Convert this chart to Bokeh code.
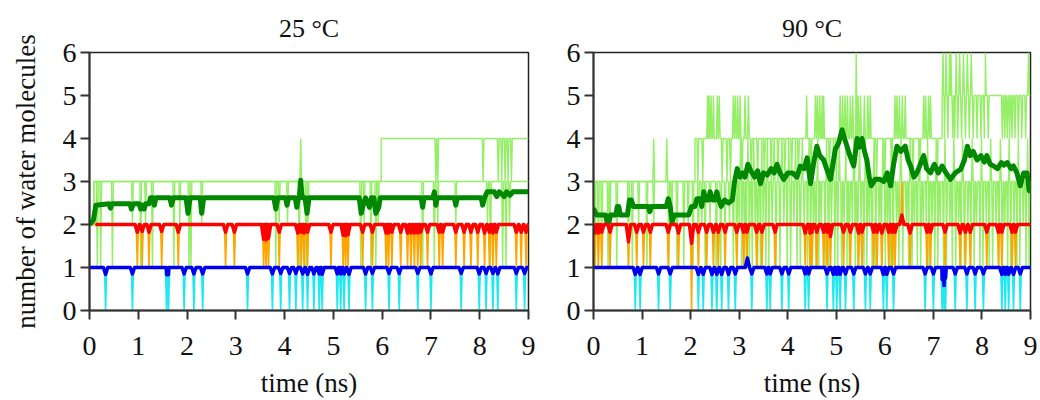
import numpy as np
from bokeh.plotting import figure
from bokeh.layouts import row
from bokeh.models import Range1d, FixedTicker, Title
from bokeh.embed import file_html
from bokeh.resources import INLINE

TIME_TICKS = [0, 1, 2, 3, 4, 5, 6, 7, 8, 9]
COUNT_TICKS = [0, 1, 2, 3, 4, 5, 6]
TITLES = ["25 \u00b0C", "90 \u00b0C"]

# ---------------- 25 °C ----------------
cyan25_t = [0.33, 0.88, 1.58, 1.62, 1.94, 2.14, 2.32, 3.24, 3.75, 3.92, 4.10, 4.23, 4.37, 4.47,
            4.60, 4.71, 4.77, 5.08, 5.15, 5.22, 5.32, 5.66, 5.80, 6.14, 6.35, 6.73, 7.00, 7.62,
            7.99, 8.13, 8.27, 8.37, 8.75, 8.92]
cyan25_v = [0] * len(cyan25_t)
blue25_t = cyan25_t
blue25_v = [0.84, 0.85, 0.83, 0.83, 0.85, 0.85, 0.85, 0.85, 0.85, 0.86, 0.86, 0.86, 0.85, 0.84,
            0.85, 0.85, 0.84, 0.85, 0.85, 0.85, 0.84, 0.85, 0.86, 0.86, 0.86, 0.86, 0.85, 0.86,
            0.85, 0.86, 0.86, 0.85, 0.86, 0.86]
orange25_t = [0.98, 1.08, 1.22, 1.48, 1.82, 2.79, 2.97, 3.57, 3.62, 3.67, 3.89, 4.27, 4.34, 4.40,
              4.47, 4.95, 5.20, 5.25, 5.30, 5.60, 5.80, 6.08, 6.13, 6.20, 6.38, 6.52, 6.59, 6.66,
              6.73, 6.79, 6.93, 7.17, 7.24, 7.51, 7.68, 7.82, 7.96, 8.10, 8.20, 8.27, 8.34, 8.75,
              8.85, 8.95]
orange25_v = [1] * len(orange25_t)
red25_t = orange25_t
red25_v = [1.82, 1.84, 1.82, 1.84, 1.82, 1.82, 1.82, 1.66, 1.64, 1.68, 1.82, 1.80, 1.82, 1.80,
           1.82, 1.82, 1.75, 1.74, 1.76, 1.82, 1.82, 1.80, 1.80, 1.82, 1.82, 1.80, 1.80, 1.80,
           1.80, 1.82, 1.82, 1.82, 1.82, 1.82, 1.82, 1.82, 1.82, 1.80, 1.82, 1.80, 1.82, 1.82,
           1.82, 1.82]
lg25lo_step_t = [0.0, 0.09]
lg25lo_step_v = [2, 3]
lg25lo_spk_t = [0.16, 0.23, 0.47, 0.88, 1.05, 1.15, 1.29, 1.73, 1.85, 2.04, 2.08, 2.30, 3.82, 3.89,
                4.06, 4.30, 4.44, 4.48, 5.56, 5.63, 5.77, 5.87, 5.92, 6.83, 7.07, 7.14, 7.51, 8.16,
                8.22, 8.47, 8.54, 8.61]
lg25lo_spk_v = [1, 1, 1, 2, 1, 2, 1, 1, 2, 1, 1, 2, 1, 2, 2, 1, 1, 2, 1, 2, 1, 1, 2, 1, 1, 2, 2, 2,
                1, 1, 1, 2]
lg25hi_step_t = [0.0, 0.09, 5.98]
lg25hi_step_v = [2, 3, 4]
lg25hi_spk_t = [4.33, 7.10, 7.14, 8.07, 8.38, 8.45, 8.52, 8.58, 8.65]
lg25hi_spk_v = [4, 3, 3, 3, 3, 3, 3, 3, 3]
dg25_t = [0.00, 0.08, 0.13, 0.40, 0.43, 0.46, 0.83, 0.86, 0.90, 1.02, 1.05, 1.08, 1.12, 1.15, 1.22,
          1.25, 1.30, 1.33, 1.36, 1.65, 1.68, 1.72, 1.98, 2.02, 2.06, 2.27, 2.30, 2.34, 3.78, 3.82,
          3.86, 4.02, 4.05, 4.08, 4.22, 4.25, 4.28, 4.30, 4.33, 4.36, 4.42, 4.46, 4.50, 5.53, 5.57,
          5.62, 5.66, 5.74, 5.78, 5.83, 5.87, 5.93, 5.96, 6.80, 6.83, 6.86, 7.04, 7.07, 7.10, 7.13,
          7.48, 7.51, 7.54, 8.03, 8.06, 8.10, 8.15, 8.30, 8.35, 8.40, 8.50, 8.55, 8.62, 8.68, 9.00]
dg25_v = [2.00, 2.10, 2.45, 2.48, 2.38, 2.48, 2.48, 2.36, 2.48, 2.48, 2.36, 2.45, 2.36, 2.48, 2.48,
          2.62, 2.62, 2.45, 2.62, 2.62, 2.45, 2.62, 2.62, 2.26, 2.62, 2.62, 2.26, 2.62, 2.62, 2.36,
          2.62, 2.62, 2.45, 2.62, 2.62, 2.40, 2.62, 2.62, 3.03, 2.62, 2.62, 2.26, 2.62, 2.62, 2.26,
          2.50, 2.62, 2.40, 2.62, 2.62, 2.26, 2.40, 2.62, 2.62, 2.40, 2.62, 2.62, 2.76, 2.45, 2.62,
          2.62, 2.45, 2.62, 2.62, 2.45, 2.62, 2.76, 2.76, 2.65, 2.76, 2.65, 2.76, 2.68, 2.76, 2.76]

# ---------------- 90 °C ----------------
cyan90_t = [0.86, 0.96, 1.34, 1.58, 2.16, 2.26, 2.44, 2.54, 2.64, 2.78, 2.92, 3.26, 3.57, 3.64,
            3.88, 4.02, 4.36, 4.43, 4.81, 4.94, 5.01, 5.08, 5.19, 5.36, 5.60, 5.70, 5.97, 6.04,
            6.18, 6.83, 7.00, 7.18, 7.22, 7.25, 7.45, 7.69, 7.86, 8.03, 8.41, 8.48, 8.55, 8.65, 8.79]
cyan90_v = [0] * len(cyan90_t)
blue90_t = [0.86, 0.96, 1.34, 1.58, 2.16, 2.26, 2.44, 2.54, 2.64, 2.78, 2.92, 3.17, 3.26, 3.57,
            3.64, 3.88, 4.02, 4.36, 4.43, 4.81, 4.94, 5.01, 5.08, 5.19, 5.36, 5.60, 5.70, 5.97,
            6.04, 6.18, 6.83, 7.00, 7.18, 7.22, 7.25, 7.45, 7.69, 7.86, 8.03, 8.41, 8.48, 8.55,
            8.65, 8.79]
blue90_v = [0.84, 0.84, 0.85, 0.85, 0.84, 0.84, 0.84, 0.84, 0.84, 0.84, 0.85, 1.22, 0.85, 0.85,
            0.85, 0.85, 0.85, 0.85, 0.85, 0.85, 0.84, 0.84, 0.84, 0.85, 0.85, 0.85, 0.85, 0.84,
            0.84, 0.85, 0.85, 0.85, 0.72, 0.58, 0.75, 0.85, 0.85, 0.85, 0.85, 0.84, 0.84, 0.84,
            0.84, 0.85]
orange90_t = [0.03, 0.10, 0.17, 0.34, 0.72, 0.89, 1.03, 1.17, 1.54, 1.75, 2.02, 2.16, 2.33, 2.47,
              2.57, 2.71, 2.95, 3.09, 3.16, 3.36, 3.47, 3.74, 4.36, 4.46, 4.50, 4.60, 4.74, 4.81,
              4.88, 5.15, 5.29, 5.46, 5.53, 5.77, 5.84, 5.94, 6.08, 6.15, 6.21, 6.35, 6.52, 6.87,
              6.94, 7.24, 7.55, 7.66, 7.76, 8.10, 8.34, 8.41, 8.62, 8.69]
orange90_v = [1, 1, 1, 1, 1, 1, 1, 1, 1, 1, 0, 1, 1, 1, 1, 1, 1, 1, 1, 1, 1, 1, 1, 1, 1, 1, 1, 1,
              1, 1, 1, 1, 1, 1, 1, 1, 1, 1, 1, 3, 1, 1, 1, 1, 1, 1, 1, 1, 1, 1, 1, 1]
red90_t = orange90_t
red90_v = [1.80, 1.80, 1.82, 1.82, 1.60, 1.82, 1.82, 1.82, 1.82, 1.80, 1.56, 1.82, 1.82, 1.82,
           1.82, 1.82, 1.82, 1.82, 1.82, 1.82, 1.82, 1.82, 1.80, 1.80, 1.82, 1.82, 1.82, 1.82,
           1.72, 1.82, 1.82, 1.80, 1.82, 1.82, 1.82, 1.80, 1.82, 1.82, 1.82, 2.22, 1.80, 1.82,
           1.82, 1.82, 1.80, 1.82, 1.82, 1.82, 1.82, 1.82, 1.82, 1.82]
lg90lo_step_t = [0.0]
lg90lo_step_v = [3]
lg90lo_spk_t = [0.03, 0.10, 0.17, 0.30, 0.34, 0.48, 0.72, 0.80, 0.93, 1.10, 1.24, 1.55, 1.61, 1.72,
                1.86, 1.95, 2.05, 2.16, 2.23, 2.30, 2.40, 2.53, 2.62, 2.71, 2.80, 2.88,
                2.95, 3.00, 3.05, 3.11, 3.15, 3.21, 3.27, 3.33, 3.38, 3.44, 3.49, 3.55, 3.61, 3.68,
                3.76, 3.84, 3.92, 3.99, 4.06, 4.13, 4.19, 4.26, 4.34, 4.41, 4.47, 4.53, 4.58, 4.64,
                4.69, 4.77, 4.84, 4.90, 4.97, 5.03, 5.11, 5.16, 5.22, 5.27, 5.33, 5.39, 5.44, 5.51,
                5.57, 5.63, 5.68, 5.74, 5.81, 5.88, 5.93, 6.01, 6.06, 6.11, 6.17, 6.24, 6.29, 6.37,
                6.44, 6.49, 6.56, 6.61, 6.67, 6.74, 6.79, 6.86, 6.91, 6.97, 7.03, 7.09, 7.14, 7.21,
                7.27, 7.34, 7.39, 7.46, 7.52, 7.57, 7.64, 7.71, 7.77, 7.84, 7.89, 7.96, 8.02, 8.09,
                8.15, 8.22, 8.29, 8.35, 8.42, 8.47, 8.53, 8.59, 8.66, 8.72, 8.78, 8.85, 8.91, 8.97,
                3.03, 3.18, 3.30, 3.47, 3.58, 3.72, 3.88, 4.02, 4.16, 4.30, 4.44, 4.62, 4.80, 4.94,
                5.06, 5.20, 5.36, 5.48, 5.60, 5.78, 5.96, 6.14, 6.33, 6.52, 6.70, 6.88, 7.06, 7.24,
                7.42, 7.60, 7.80, 7.99, 8.18, 8.38, 8.56, 8.75, 8.94]
lg90lo_spk_v = [1, 1, 1, 1, 2, 1, 1, 1, 2, 1, 2, 1, 2, 1, 1, 2, 1, 1, 2, 1, 2, 0, 1, 1, 2, 1,
                1, 2, 1, 1, 2, 1, 1, 2, 1, 1, 2, 1, 1, 2, 1, 1, 2, 1, 1, 2, 1, 1, 2, 1, 1, 2, 1, 1,
                2, 1, 1, 2, 1, 1, 1, 2, 1, 1, 2, 1, 1, 2, 1, 1, 2, 1, 1, 2, 1, 1, 2, 1, 1, 2, 1, 1,
                2, 1, 1, 2, 1, 1, 2, 1, 1, 2, 1, 1, 2, 1, 1, 2, 1, 1, 2, 1, 1, 2, 1, 1, 2, 1, 1, 2,
                1, 1, 2, 1, 1, 2, 1, 1, 2, 1, 1, 2, 1, 1,
                4, 4, 4, 4, 4, 4, 4, 4, 4, 4, 4, 4, 4, 4, 4, 4, 4, 4, 4, 4, 4, 4, 4, 4, 4, 4, 4, 4,
                4, 4, 4, 4, 4, 4, 4, 4, 4]
lg90hi_step_t = [0.0, 2.09, 7.18]
lg90hi_step_v = [3, 4, 5]
lg90hi_spk_t = [1.24, 1.51,
                2.35, 2.38, 2.42, 2.47, 2.55, 2.59, 2.88, 2.92, 2.97, 3.02, 3.12, 3.19, 4.39, 4.57,
                4.61, 4.66, 4.71, 4.74, 5.08, 5.13, 5.18, 5.23, 5.29, 5.34, 5.41, 5.45, 5.50, 5.58,
                5.65, 5.70, 6.21, 6.25, 6.30, 6.36, 6.42, 6.80, 6.84, 6.90, 6.94,
                2.15, 2.25, 2.65, 2.75, 2.82, 3.06, 3.25, 3.38, 3.52, 3.66, 3.80, 3.94, 4.08, 4.22,
                4.48, 4.86, 5.00, 5.38, 5.83, 6.00, 6.14, 6.58, 6.72, 7.08,
                7.20, 7.26, 7.33, 7.36, 7.47, 7.54, 7.62, 7.70, 7.78, 8.07, 8.96,
                7.23, 7.30, 7.40, 7.44, 7.50, 7.58, 7.66, 7.74, 7.82, 7.90, 7.98, 8.05, 8.13, 8.42,
                8.47, 8.52, 8.57, 8.62, 8.68, 8.75, 8.82, 8.90]
lg90hi_spk_v = [4, 4,
                5, 5, 5, 5, 5, 5, 5, 5, 5, 5, 5, 5, 5, 5,
                5, 5, 5, 5, 5, 5, 5, 5, 5, 5, 6, 5, 5, 5,
                5, 5, 5, 5, 5, 5, 5, 5, 5, 5, 5,
                3, 3, 3, 3, 3, 3, 3, 3, 3, 3, 3, 3, 3, 3,
                3, 3, 3, 3, 3, 3, 3, 3, 3, 3,
                6, 6, 6, 6, 6, 6, 6, 6, 6, 6, 6,
                4, 4, 4, 4, 4, 4, 4, 4, 4, 4, 4, 4, 4, 4,
                4, 4, 4, 4, 4, 4, 4, 4]
dg90_t = [0.00, 0.06, 0.25, 0.28, 0.32, 0.35, 0.46, 0.49, 0.52, 0.55, 0.70, 0.74, 0.78, 0.82,
          1.13, 1.16, 1.19, 1.50, 1.54, 1.58, 1.62, 1.66, 1.96, 2.02, 2.09, 2.13, 2.20, 2.23,
          2.27, 2.31, 2.37, 2.40, 2.45, 2.50, 2.54, 2.58, 2.63, 2.70, 2.78, 2.86, 2.90, 2.96,
          3.02, 3.08, 3.12, 3.18, 3.24, 3.32, 3.38, 3.44, 3.50, 3.58, 3.66, 3.72, 3.78, 3.84,
          3.92, 4.00, 4.10, 4.19, 4.26, 4.34, 4.40, 4.47, 4.53, 4.60, 4.66, 4.74, 4.80, 4.88,
          4.93, 4.98, 5.05, 5.12, 5.17, 5.22, 5.28, 5.36, 5.43, 5.48, 5.53, 5.58, 5.63, 5.68,
          5.72, 5.80, 5.90, 5.98, 6.05, 6.12, 6.18, 6.25, 6.33, 6.42, 6.48, 6.53, 6.60, 6.66,
          6.73, 6.80, 6.86, 6.94, 7.02, 7.10, 7.18, 7.26, 7.35, 7.45, 7.56, 7.64, 7.70, 7.76,
          7.82, 7.90, 7.98, 8.05, 8.10, 8.17, 8.24, 8.32, 8.40, 8.45, 8.52, 8.60, 8.65, 8.72,
          8.79, 8.86, 8.93, 8.97, 9.00]
dg90_v = [2.38, 2.22, 2.22, 2.05, 2.05, 2.22, 2.22, 2.42, 2.42, 2.22, 2.22, 2.57, 2.57, 2.42,
          2.42, 2.30, 2.42, 2.42, 2.60, 2.42, 2.05, 2.22, 2.22, 2.42, 2.42, 2.60, 2.60, 2.42,
          2.76, 2.57, 2.57, 2.76, 2.57, 2.57, 2.76, 2.57, 2.42, 2.57, 2.50, 2.57, 2.96, 3.30,
          3.10, 3.20, 3.10, 3.40, 3.25, 3.10, 3.25, 2.95, 3.20, 3.15, 3.30, 3.20, 3.40, 3.20,
          3.05, 3.20, 3.20, 3.10, 3.36, 3.30, 3.55, 2.95, 3.40, 3.82, 3.60, 3.50, 3.30, 3.05,
          3.40, 3.75, 3.90, 4.20, 4.00, 3.82, 3.60, 3.36, 4.00, 3.80, 4.00, 3.70, 3.50, 3.10,
          2.90, 3.05, 3.05, 3.00, 3.20, 2.90, 3.40, 3.82, 3.70, 3.82, 3.50, 3.36, 3.10, 3.20,
          3.40, 3.60, 3.30, 3.20, 3.40, 3.20, 3.36, 3.20, 3.05, 3.20, 3.28, 3.50, 3.82, 3.60,
          3.70, 3.50, 3.60, 3.45, 3.60, 3.40, 3.36, 3.30, 3.44, 3.38, 3.44, 3.30, 3.36, 3.20,
          2.90, 3.20, 3.20, 2.80, 2.75]

C_CYAN = "#1fe8ee"
C_BLUE = "#0000f0"
C_ORANGE = "#ffa500"
C_RED = "#ff0000"
C_LG = "#94ee66"
C_DG = "#008800"
SERIF = "Liberation Serif"


def spiky(step_t, step_v, spk_t, spk_v, w, t_end=9.0):
    step_t = list(step_t)
    step_v = list(step_v)

    def base(t):
        i = int(np.searchsorted(step_t, t, side="right")) - 1
        return step_v[max(i, 0)]

    pts = [(step_t[0], 0, step_v[0])]
    for i in range(1, len(step_t)):
        pts.append((step_t[i], 1, step_v[i - 1]))
        pts.append((step_t[i], 2, step_v[i]))
    for t, v in zip(spk_t, spk_v):
        pts.append((t - w, 0, base(t - w)))
        pts.append((t, 1, v))
        pts.append((t + w, 2, base(t + w)))
    pts.append((t_end, 3, step_v[-1]))
    pts = [p for p in pts if step_t[0] <= p[0] <= t_end]
    pts.sort(key=lambda p: (p[0], p[1]))
    return [p[0] for p in pts], [p[2] for p in pts]


def make_fig(title, width, border_left, show_ylabel):
    p = figure(width=width, height=400, output_backend="svg", toolbar_location=None,
               x_range=Range1d(0, 9), y_range=Range1d(0, 6),
               min_border_left=border_left, min_border_right=8,
               min_border_top=52, min_border_bottom=89, title=None)
    p.add_layout(Title(text=title, align="center", text_font=SERIF, text_font_size="26px",
                       text_font_style="normal", text_color="#111111", standoff=19), "above")
    p.xgrid.visible = False
    p.ygrid.visible = False
    p.outline_line_color = "#222222"
    p.outline_line_width = 1.5
    p.outline_line_alpha = 1.0
    p.xaxis.ticker = FixedTicker(ticks=TIME_TICKS)
    p.yaxis.ticker = FixedTicker(ticks=COUNT_TICKS)
    for ax in (p.xaxis[0], p.yaxis[0]):
        ax.axis_line_width = 2
        ax.axis_line_color = "#333333"
        ax.major_tick_line_color = "#333333"
        ax.major_tick_line_width = 2
        ax.major_tick_out = 9
        ax.major_tick_in = 0
        ax.minor_tick_line_color = None
        ax.major_label_text_font = SERIF
        ax.major_label_text_font_size = "28px"
        ax.major_label_text_color = "#111111"
        ax.axis_label_text_font = SERIF
        ax.axis_label_text_font_size = "27px"
        ax.axis_label_text_font_style = "normal"
        ax.axis_label_text_color = "#111111"
    p.xaxis.axis_label = "time (ns)"
    p.xaxis.major_label_standoff = 17
    p.xaxis.axis_label_standoff = 10
    p.yaxis.major_label_standoff = 4
    if show_ylabel:
        p.yaxis.axis_label = "number of water molecules"
        p.yaxis.axis_label_standoff = 19
    return p


def draw(p, lghi, lglo, cyan, orange, dg, red, blue):
    x, y = spiky(*lghi, w=0.018)
    p.line(x, y, color=C_LG, line_width=1.4)
    x, y = spiky(*lglo, w=0.018)
    p.line(x, y, color=C_LG, line_width=1.4)
    x, y = spiky(*cyan, w=0.022)
    p.line(x, y, color=C_CYAN, line_width=1.6)
    x, y = spiky(*orange, w=0.022)
    p.line(x, y, color=C_ORANGE, line_width=1.6)
    p.line(dg[0], dg[1], color=C_DG, line_width=5, line_join="round")
    x, y = spiky(*red, w=0.045)
    p.line(x, y, color=C_RED, line_width=3.5, line_join="round")
    x, y = spiky(*blue, w=0.045)
    p.line(x, y, color=C_BLUE, line_width=3.5, line_join="round")


p1 = make_fig(TITLES[0], 536, 89, True)
draw(p1,
     (lg25hi_step_t, lg25hi_step_v, lg25hi_spk_t, lg25hi_spk_v),
     (lg25lo_step_t, lg25lo_step_v, lg25lo_spk_t, lg25lo_spk_v),
     ([0.0], [1], cyan25_t, cyan25_v),
     ([0.0], [2], orange25_t, orange25_v),
     (dg25_t, dg25_v),
     ([0.12], [2], red25_t, red25_v),
     ([0.0], [1], blue25_t, blue25_v))

p2 = make_fig(TITLES[1], 502, 57, False)
draw(p2,
     (lg90hi_step_t, lg90hi_step_v, lg90hi_spk_t, lg90hi_spk_v),
     (lg90lo_step_t, lg90lo_step_v, lg90lo_spk_t, lg90lo_spk_v),
     ([0.0], [1], cyan90_t, cyan90_v),
     ([0.0], [2], orange90_t, orange90_v),
     (dg90_t, dg90_v),
     ([0.0], [2], red90_t, red90_v),
     ([0.0], [1], blue90_t, blue90_v))

layout = row(p1, p2)
open("out.html", "w").write(file_html(layout, INLINE))
